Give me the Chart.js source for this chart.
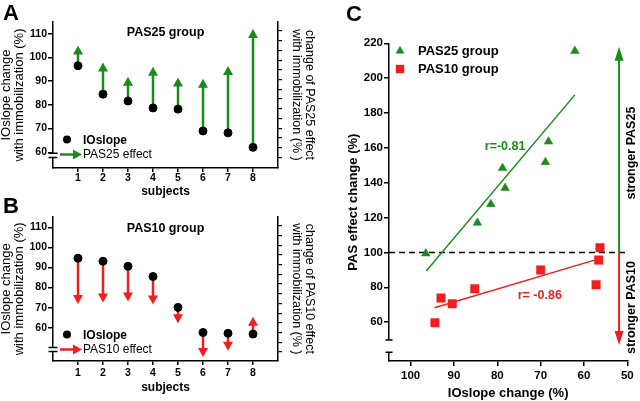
<!DOCTYPE html>
<html lang="en">
<head>
<meta charset="UTF-8">
<title>IOslope change and PAS effect</title>
<script src="https://cdn.jsdelivr.net/npm/chart.js@4"></script>
<style>
  body { margin: 0; background: #fff; }
  #fig { position: relative; width: 640px; height: 401px; overflow: hidden; background: #fff; }
  canvas { position: absolute; }
  .panel { position: absolute; font: bold 22px "Liberation Sans", Arial, sans-serif; line-height: 22px; color: #000; }
</style>
</head>
<body>
<div id="fig">
  <canvas id="chartA" width="320" height="200" style="left:0;top:0"></canvas>
  <canvas id="chartB" width="320" height="201" style="left:0;top:200px"></canvas>
  <canvas id="chartC" width="320" height="401" style="left:320px;top:0"></canvas>
  <div class="panel" style="left:3px;top:2px">A</div>
  <div class="panel" style="left:3px;top:195px">B</div>
  <div class="panel" style="left:346px;top:3px">C</div>
</div>
<script>
const FONT = '"Liberation Sans", Arial, sans-serif';
const GREEN = '#1b8c1b';
const RED = '#f01e1e';

// panels A and B: one value per subject
const subjects = [1, 2, 3, 4, 5, 6, 7, 8];
const ioslopeA = [96.5, 84.5, 81.6, 78.7, 78.2, 69.0, 68.2, 62.1];
const pas25Tip = [105.0, 97.8, 91.8, 96.0, 91.5, 91.0, 96.4, 112.0];
const ioslopeB = [94.6, 93.1, 90.6, 85.5, 70.1, 57.6, 57.2, 56.8];
const pas10Tip = [71.8, 72.5, 73.0, 71.5, 62.2, 45.4, 48.5, 65.4];
const leftTicks = [60, 70, 80, 90, 100, 110];
const rightTicks = [0, 1, 2, 3, 4, 5, 6, 7, 8, 9, 10, 11, 12, 13];

// panel C: IOslope change vs PAS effect change
const pas25Io = [96.5, 84.6, 81.5, 78.8, 78.2, 68.9, 68.2, 62.1];
const pas25Eff = [99.4, 117.0, 127.7, 148.4, 137.0, 151.8, 163.6, 215.6];
const pas10Io = [94.4, 93.0, 90.4, 85.2, 70.0, 57.2, 56.6, 56.3];
const pas10Eff = [59.7, 73.8, 70.6, 79.2, 89.9, 81.5, 95.6, 102.7];
const fit25X = [96.4, 62.1];
const fit25Y = [89.3, 190.4];
const fit10X = [94.5, 57.0];
const fit10Y = [68.3, 96.0];
const ticksCX = [50, 60, 70, 80, 90, 100];
const ticksCY = [60, 80, 100, 120, 140, 160, 180, 200, 220];

Chart.defaults.font.family = FONT;
Chart.defaults.color = '#000';

function drawArrow(ctx, x0, y0, x1, y1, color, lw, hw, hl) {
  const ang = Math.atan2(y1 - y0, x1 - x0);
  const len = Math.hypot(x1 - x0, y1 - y0);
  ctx.save();
  ctx.translate(x0, y0);
  ctx.rotate(ang);
  ctx.strokeStyle = color;
  ctx.fillStyle = color;
  ctx.lineWidth = lw;
  ctx.beginPath();
  ctx.moveTo(0, 0);
  ctx.lineTo(Math.max(len - hl + 1, 0), 0);
  ctx.stroke();
  ctx.beginPath();
  ctx.moveTo(len, 0);
  ctx.lineTo(len - hl, -hw / 2);
  ctx.lineTo(len - hl, hw / 2);
  ctx.closePath();
  ctx.fill();
  ctx.restore();
}

function axisBreak(ctx, x, y1, y2, half) {
  ctx.save();
  ctx.fillStyle = '#fff';
  ctx.fillRect(x - 2, Math.min(y1, y2), 4, Math.abs(y2 - y1));
  ctx.strokeStyle = '#000';
  ctx.lineWidth = 1.5;
  ctx.beginPath();
  ctx.moveTo(x - half, y1); ctx.lineTo(x + half, y1);
  ctx.moveTo(x - half, y2); ctx.lineTo(x + half, y2);
  ctx.stroke();
  ctx.restore();
}

function subjectChart(id, o) {
  const extras = {
    id: 'extras' + id,
    beforeDatasetsDraw(chart) {
      const { ctx, scales: { x, y } } = chart;
      subjects.forEach((s, i) => {
        const px = x.getPixelForValue(s);
        drawArrow(ctx, px, y.getPixelForValue(o.dots[i]), px, y.getPixelForValue(o.tips[i]), o.color, 2.5, 10, 9);
      });
    },
    afterDraw(chart) {
      const { ctx, chartArea: a, scales: { y } } = chart;
      ctx.save();
      ctx.fillStyle = '#000';
      ctx.textAlign = 'center';
      ctx.textBaseline = 'middle';
      ctx.font = 'bold 12.5px ' + FONT;
      ctx.fillText(o.title, (a.left + a.right) / 2, o.titleY);
      // legend
      ctx.beginPath();
      ctx.arc(a.left + 14, o.legY, 4, 0, 2 * Math.PI);
      ctx.fill();
      ctx.textAlign = 'left';
      ctx.font = 'bold 12px ' + FONT;
      ctx.fillText('IOslope', a.left + 30, o.legY + 1);
      drawArrow(ctx, a.left + 7, o.legY + 15, a.left + 29, o.legY + 15, o.color, 2.5, 10, 9);
      ctx.fillStyle = '#000';
      ctx.font = '12px ' + FONT;
      ctx.fillText(o.effect, a.left + 30, o.legY + 15);
      ctx.restore();
      axisBreak(ctx, a.left, y.getPixelForValue(o.brk[0]), y.getPixelForValue(o.brk[1]), 4.5);
    }
  };

  return new Chart(document.getElementById(id), {
    type: 'scatter',
    data: {
      datasets: [{
        label: 'IOslope',
        data: subjects.map((s, i) => ({ x: s, y: o.dots[i] })),
        pointRadius: 4,
        backgroundColor: '#000',
        borderColor: '#000'
      }]
    },
    options: {
      responsive: false,
      animation: false,
      devicePixelRatio: 1,
      events: [],
      layout: { padding: { top: o.top, left: 0, right: 0, bottom: 0 } },
      plugins: { legend: { display: false }, tooltip: { enabled: false } },
      scales: {
        x: {
          type: 'linear', min: 0, max: 9,
          afterBuildTicks: s => { s.ticks = subjects.map(v => ({ value: v })); },
          afterFit: s => { s.height = o.xHeight; },
          grid: { drawOnChartArea: false, tickLength: 4, color: '#000', lineWidth: 1.5 },
          border: { color: '#000', width: 1.5 },
          ticks: { font: { size: 10.5, weight: 'bold' }, padding: o.xTickPad, maxRotation: 0 },
          title: { display: true, text: 'subjects', font: { size: 12, weight: 'bold' }, padding: { top: 0, bottom: o.xTitlePad } }
        },
        y: {
          min: o.yMin, max: o.yMax,
          afterBuildTicks: s => { s.ticks = leftTicks.map(v => ({ value: v })); },
          afterFit: s => { s.width = 53; },
          grid: { drawOnChartArea: false, tickLength: 5, color: '#000', lineWidth: 1.5 },
          border: { color: '#000', width: 1.5 },
          ticks: { font: { size: 10.5, weight: 'bold' }, padding: 1 },
          title: { display: true, text: ['IOslope change', 'with immobilization (%)'], font: { size: 13, lineHeight: 1 }, padding: { top: 0, bottom: 0 } }
        },
        y2: {
          position: 'right', min: o.y2Min, max: o.y2Max,
          afterBuildTicks: s => { s.ticks = rightTicks.map(v => ({ value: v })); },
          afterFit: s => { s.width = 42; },
          grid: { drawOnChartArea: false, tickLength: 4, color: '#000', lineWidth: 1.2 },
          border: { color: '#000', width: 1.5 },
          ticks: { display: false },
          title: { display: true, text: ['change of ' + o.group + ' effect', 'with immobilization (% )'], font: { size: 12.5, lineHeight: 1.05 }, padding: { top: 3.5, bottom: 0 } }
        }
      }
    },
    plugins: [extras]
  });
}

subjectChart('chartA', {
  dots: ioslopeA, tips: pas25Tip, color: GREEN, group: 'PAS25',
  title: 'PAS25 group', effect: 'PAS25 effect',
  top: 22, yMin: 53.4, yMax: 114.9, y2Min: -1.1, y2Max: 13.92,
  xHeight: 32, xTickPad: 0, xTitlePad: 1,
  titleY: 33, legY: 139.5, brk: [59.6, 57.8]
});

subjectChart('chartB', {
  dots: ioslopeB, tips: pas10Tip, color: RED, group: 'PAS10',
  title: 'PAS10 group', effect: 'PAS10 effect',
  top: 16.7, yMin: 43.4, yMax: 115.3, y2Min: -0.93, y2Max: 13.93,
  xHeight: 40, xTickPad: 2, xTitlePad: 6,
  titleY: 28.5, legY: 134.5, brk: [50.1, 48.1]
});

// panel C
const extrasC = {
  id: 'extrasC',
  afterDatasetsDraw(chart) {
    const { ctx, scales: { x, y } } = chart;
    const ax = x.getPixelForValue(51.9);
    drawArrow(ctx, ax, y.getPixelForValue(100), ax, y.getPixelForValue(218), GREEN, 2, 9, 14);
    drawArrow(ctx, ax, y.getPixelForValue(100), ax, y.getPixelForValue(46.9), RED, 2, 9, 14);
  },
  afterDraw(chart) {
    const { ctx, chartArea: a, scales: { x, y } } = chart;
    ctx.save();
    // legend
    const lx = a.left + 11;
    ctx.fillStyle = GREEN;
    ctx.beginPath();
    ctx.moveTo(lx, 51 - 5); ctx.lineTo(lx + 4.4, 51 + 2.5); ctx.lineTo(lx - 4.4, 51 + 2.5);
    ctx.closePath(); ctx.fill();
    ctx.fillStyle = RED;
    ctx.fillRect(lx - 4.2, 69 - 4.2, 8.4, 8.4);
    ctx.fillStyle = '#000';
    ctx.font = 'bold 13px ' + FONT;
    ctx.textAlign = 'left';
    ctx.textBaseline = 'middle';
    ctx.fillText('PAS25 group', a.left + 29, 51);
    ctx.fillText('PAS10 group', a.left + 29, 69);
    // correlation labels
    ctx.textAlign = 'center';
    ctx.font = 'bold 12.5px ' + FONT;
    ctx.fillStyle = GREEN;
    ctx.fillText('r=-0.81', x.getPixelForValue(78.2), y.getPixelForValue(160.8));
    ctx.fillStyle = RED;
    ctx.fillText('r= -0.86', x.getPixelForValue(70.2), y.getPixelForValue(75.5));
    // side labels
    ctx.fillStyle = '#000';
    ctx.font = 'bold 12.5px ' + FONT;
    [['stronger PAS25', 157], ['stronger PAS10', 68.4]].forEach(([t, v]) => {
      ctx.save();
      ctx.translate(a.right + 4, y.getPixelForValue(v));
      ctx.rotate(-Math.PI / 2);
      ctx.fillText(t, 0, 0);
      ctx.restore();
    });
    ctx.restore();
    axisBreak(ctx, a.left, y.getPixelForValue(49.8), y.getPixelForValue(42.7), 3.5);
  }
};

new Chart(document.getElementById('chartC'), {
  type: 'scatter',
  data: {
    datasets: [
      {
        label: 'PAS25 group',
        data: pas25Io.map((v, i) => ({ x: v, y: pas25Eff[i] })),
        pointStyle: 'triangle', pointRadius: 5,
        backgroundColor: GREEN, borderColor: GREEN, borderWidth: 0.5
      },
      {
        label: 'PAS10 group',
        data: pas10Io.map((v, i) => ({ x: v, y: pas10Eff[i] })),
        pointStyle: 'rect', pointRadius: 6,
        backgroundColor: RED, borderColor: RED, borderWidth: 0.5
      },
      {
        data: fit25X.map((v, i) => ({ x: v, y: fit25Y[i] })),
        showLine: true, pointRadius: 0, borderColor: GREEN, borderWidth: 1.5
      },
      {
        data: fit10X.map((v, i) => ({ x: v, y: fit10Y[i] })),
        showLine: true, pointRadius: 0, borderColor: RED, borderWidth: 1.5
      },
      {
        data: [{ x: 105, y: 100 }, { x: 50, y: 100 }],
        showLine: true, pointRadius: 0, borderColor: '#000', borderWidth: 1.5, borderDash: [6, 4]
      }
    ]
  },
  options: {
    responsive: false,
    animation: false,
    devicePixelRatio: 1,
    events: [],
    layout: { padding: { top: 43.3, left: 0, right: 12.7, bottom: 0 } },
    plugins: { legend: { display: false }, tooltip: { enabled: false } },
    scales: {
      x: {
        type: 'linear', min: 50, max: 105, reverse: true,
        afterBuildTicks: s => { s.ticks = ticksCX.map(v => ({ value: v })); },
        afterFit: s => { s.height = 40; },
        grid: { drawOnChartArea: false, tickLength: 5, color: '#000', lineWidth: 1.5 },
        border: { color: '#000', width: 1.5 },
        ticks: { font: { size: 11.5, weight: 'bold' }, padding: 3, maxRotation: 0 },
        title: { display: true, text: 'IOslope change (%)', font: { size: 13, weight: 'bold' }, padding: { top: 0, bottom: 0 } }
      },
      y: {
        min: 37.7, max: 220,
        afterBuildTicks: s => { s.ticks = ticksCY.map(v => ({ value: v })); },
        afterFit: s => { s.width = 69; },
        grid: { drawOnChartArea: false, tickLength: 5, color: '#000', lineWidth: 1.5 },
        border: { color: '#000', width: 1.5 },
        ticks: { font: { size: 11.5, weight: 'bold' }, padding: 1 },
        title: { display: true, text: 'PAS effect change (%)', font: { size: 13, weight: 'bold' }, padding: { top: 26, bottom: 0 } }
      }
    }
  },
  plugins: [extrasC]
});
</script>
</body>
</html>
